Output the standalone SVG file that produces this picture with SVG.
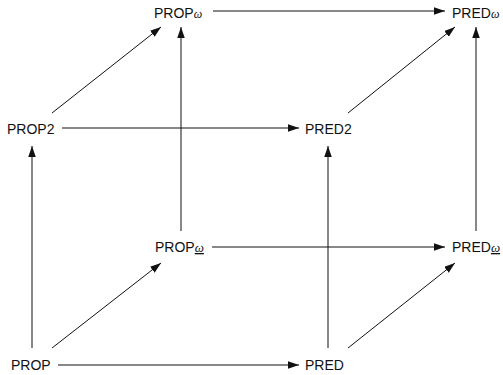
<svg xmlns="http://www.w3.org/2000/svg" width="503" height="375" viewBox="0 0 503 375">
  <style>
    .lbl { font-family: "Liberation Sans", Arial, sans-serif; font-size: 14px; fill: #111; }
    .om { font-family: "Liberation Serif", "DejaVu Serif", serif; font-style: italic; font-size: 12px; }
    .omu { font-family: "Liberation Serif", "DejaVu Serif", serif; font-style: italic; font-size: 13px; text-decoration: underline; }
    .edge { stroke: #111; stroke-width: 1; fill: none; marker-end: url(#head); }
  </style>
  <defs>
    <marker id="head" markerUnits="userSpaceOnUse" markerWidth="11" markerHeight="8" refX="11" refY="3.75" orient="auto">
      <path d="M0,0 L11,3.75 L0,7.5 Z" fill="#111"/>
    </marker>
  </defs>

  <g id="connectors">
    <!-- horizontal edges -->
    <line class="edge" x1="58" y1="365" x2="299" y2="365"/>
    <line class="edge" x1="62" y1="128" x2="299" y2="128"/>
    <line class="edge" x1="212" y1="247" x2="445" y2="247"/>
    <line class="edge" x1="213" y1="11" x2="445" y2="11"/>
    <!-- vertical edges -->
    <line class="edge" x1="32" y1="348" x2="32" y2="146"/>
    <line class="edge" x1="328" y1="348" x2="328" y2="146"/>
    <line class="edge" x1="181" y1="231" x2="181" y2="27"/>
    <line class="edge" x1="476" y1="231" x2="476" y2="27"/>
    <!-- diagonal edges -->
    <line class="edge" x1="52" y1="113" x2="161" y2="27"/>
    <line class="edge" x1="348" y1="113" x2="455" y2="27"/>
    <line class="edge" x1="52" y1="348" x2="161" y2="263"/>
    <line class="edge" x1="348" y1="348" x2="455" y2="263"/>
  </g>

  <g id="prop"><text class="lbl" x="11" y="370">PROP</text></g>
  <g id="pred"><text class="lbl" x="305" y="370">PRED</text></g>
  <g id="prop2"><text class="lbl" x="7" y="134">PROP2</text></g>
  <g id="pred2"><text class="lbl" x="305" y="134">PRED2</text></g>
  <g id="prop-omega-under"><text class="lbl" x="155" y="252">PROP<tspan class="omu">ω</tspan></text></g>
  <g id="pred-omega-under"><text class="lbl" x="452" y="252">PRED<tspan class="omu">ω</tspan></text></g>
  <g id="prop-omega"><text class="lbl" x="154" y="18">PROP<tspan class="om">ω</tspan></text></g>
  <g id="pred-omega"><text class="lbl" x="452" y="18">PRED<tspan class="om">ω</tspan></text></g>
</svg>
